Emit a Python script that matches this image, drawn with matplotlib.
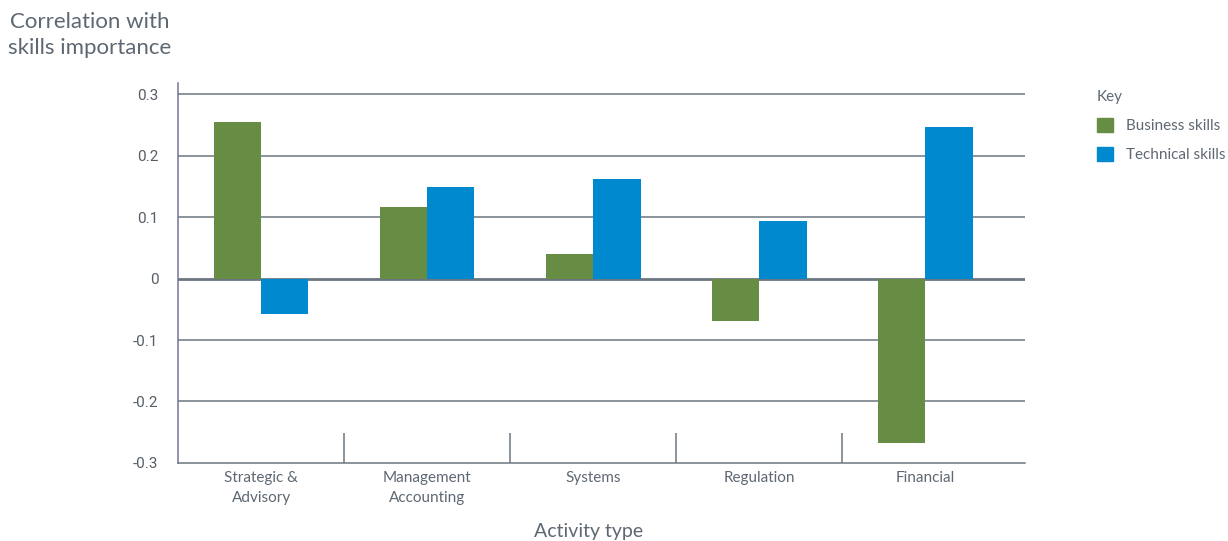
import numpy as np
import matplotlib.pyplot as plt
from matplotlib.patches import Patch

# Data
activities = ['Strategic &\nAdvisory', 'Management\nAccounting', 'Systems', 'Regulation', 'Financial']
business = [0.255, 0.117, 0.040, -0.069, -0.268]
technical = [-0.057, 0.149, 0.162, 0.094, 0.247]
yticks = [-0.3, -0.2, -0.1, 0, 0.1, 0.2, 0.3]
ytick_labels = ['-0.3', '-0.2', '-0.1', '0', '0.1', '0.2', '0.3']

GREEN = '#678c44'
BLUE = '#0089cf'
GRID = '#6b7680'
TEXT = '#5e6872'

fig = plt.figure(figsize=(12.28, 5.41), dpi=100)
ax = fig.add_axes([0.145, 0.1442, 0.6897, 0.7024])

x = np.arange(len(activities))
w = 0.285
ax.bar(x - w / 2, business, w, color=GREEN, zorder=3)
ax.bar(x + w / 2, technical, w, color=BLUE, zorder=3)

ax.set_xlim(-0.5, 4.6)
ax.set_ylim(-0.3, 0.318)

# horizontal grid, zero line a bit heavier
for v in yticks:
    if v == -0.3:
        continue
    ax.axhline(v, color=GRID, lw=2.0 if v == 0 else 1.1, zorder=2)

# short separators between activity groups
ax.vlines(x[:-1] + 0.5, -0.3, -0.251, color=GRID, lw=1.1, zorder=2)

for s in ['top', 'right']:
    ax.spines[s].set_visible(False)
ax.spines['left'].set_color('#7b7394')
ax.spines['left'].set_linewidth(1.1)
ax.spines['bottom'].set_color(GRID)
ax.spines['bottom'].set_linewidth(1.1)

ax.set_yticks(yticks)
ax.set_yticklabels(ytick_labels, family='Roboto', fontsize=11, color='#555d66')
ax.tick_params(axis='y', length=0, pad=14)
ax.set_xticks(x)
ax.set_xticklabels(activities, family='Lato', fontsize=11, color=TEXT, linespacing=1.5)
ax.tick_params(axis='x', length=0, pad=6)

fig.text(0.073, 0.978, 'Correlation with\nskills importance', ha='center', va='top',
         family='Lato', fontsize=16, color=TEXT, linespacing=1.35)
fig.text(0.479, 0.018, 'Activity type', ha='center', va='center',
         family='Lato', fontsize=14, color=TEXT)

handles = [Patch(color=GREEN, label='Business skills'),
           Patch(color=BLUE, label='Technical skills')]
leg = fig.legend(handles=handles, loc='upper left', bbox_to_anchor=(0.893, 0.833),
                 frameon=False, title='Key', alignment='left',
                 prop={'family': 'Lato', 'size': 11}, handlelength=1.1, handleheight=1.1,
                 handletextpad=0.8, labelspacing=0.88, borderaxespad=0, borderpad=0)
leg.get_title().set_color(TEXT)
leg.get_title().set_family('Lato')
leg.get_title().set_fontsize(11)
for t in leg.get_texts():
    t.set_color(TEXT)

fig.savefig('out.png', dpi=100)
